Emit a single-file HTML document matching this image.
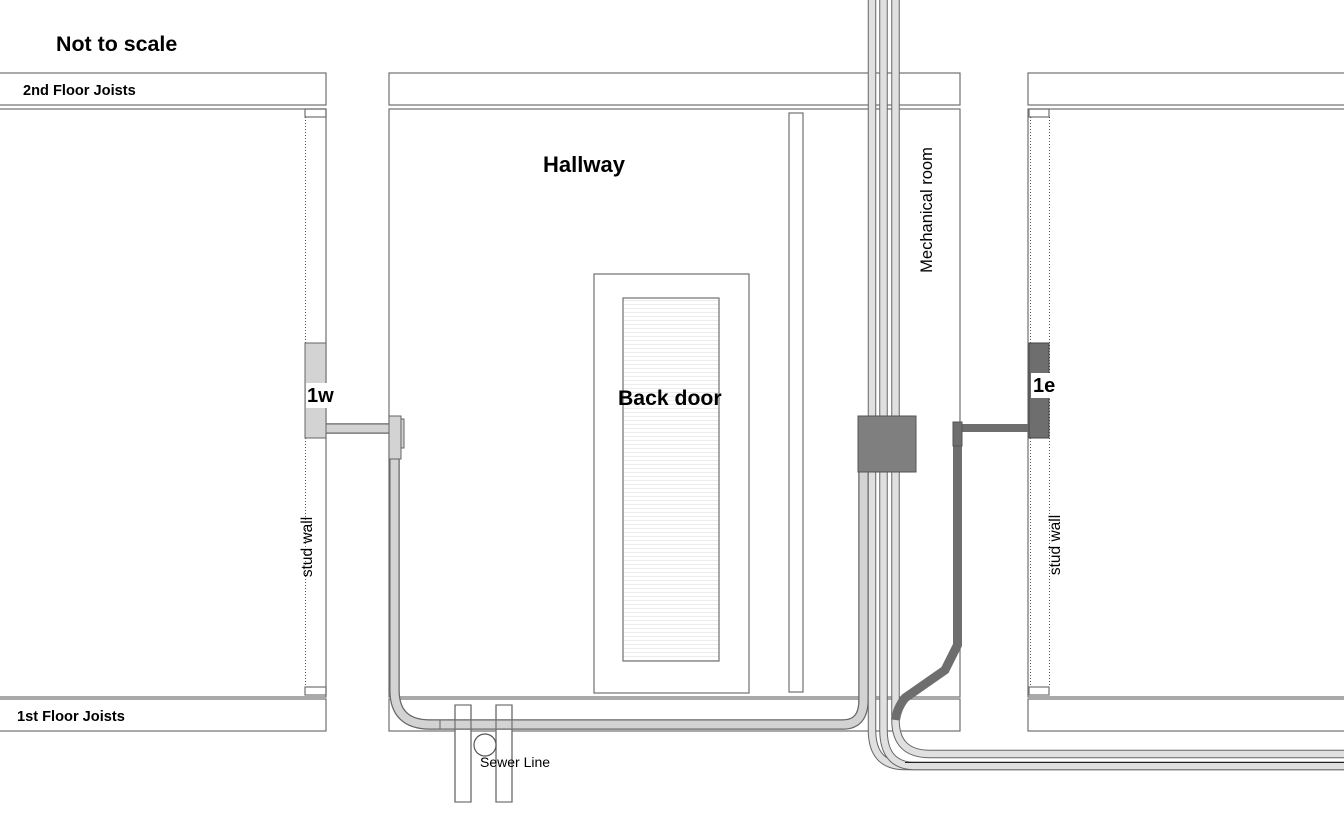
<!DOCTYPE html>
<html><head><meta charset="utf-8"><style>
html,body{margin:0;padding:0;background:#fff}
svg{display:block}
text{font-family:"Liberation Sans",Arial,sans-serif}
</style></head><body>
<svg width="1344" height="816" viewBox="0 0 1344 816" xmlns="http://www.w3.org/2000/svg">
<defs>
<pattern id="str" width="4" height="4" patternUnits="userSpaceOnUse"><rect width="4" height="4" fill="#fff"/><line x1="0" y1="0.5" x2="4" y2="0.5" stroke="#ececec" stroke-width="1"/></pattern>
</defs>
<g fill="none" stroke="#707070" stroke-width="1.2">
<rect x="-2" y="73" width="328" height="32"/>
<rect x="389" y="73" width="571" height="32"/>
<rect x="1028" y="73" width="320" height="32"/>
<rect x="-2" y="699" width="328" height="32"/>
<rect x="389" y="699" width="571" height="32"/>
<rect x="1028" y="699" width="320" height="32"/>
<rect x="-2" y="109" width="328" height="588"/>
<rect x="389" y="109" width="571" height="588"/>
<rect x="1028" y="109" width="320" height="588"/>
<rect x="305" y="109" width="21" height="8"/>
<rect x="305" y="687" width="21" height="8"/>
<rect x="1029" y="109" width="20" height="8"/>
<rect x="1029" y="687" width="20" height="8"/>
<rect x="594" y="274" width="155" height="419"/>
<rect x="623" y="298" width="96" height="363" fill="url(#str)"/>
<rect x="789" y="113" width="14" height="579"/>
</g>
<line x1="305.5" y1="117" x2="305.5" y2="687" stroke="#555" stroke-dasharray="1,2"/>
<line x1="1030.5" y1="117" x2="1030.5" y2="687" stroke="#555" stroke-dasharray="1,2"/>
<line x1="1049.5" y1="117" x2="1049.5" y2="687" stroke="#555" stroke-dasharray="1,2"/>

<g fill="#fff" stroke="#707070" stroke-width="1.2">
<rect x="455" y="705" width="16" height="97"/>
<rect x="496" y="705" width="16" height="97"/>
</g>

<path d="M326 428.5 H390 M394.5 459 V690 Q394.5 724.5 430 724.5 H843 Q863.5 724.5 863.5 700 V472" fill="none" stroke="#666" stroke-width="10.5"/>
<path d="M326 428.5 H390 M394.5 459 V690 Q394.5 724.5 430 724.5 H843 Q863.5 724.5 863.5 700 V472" fill="none" stroke="#d3d3d3" stroke-width="8"/>
<line x1="440" y1="720" x2="440" y2="729" stroke="#666"/>
<g fill="none" stroke="#707070" stroke-width="1.2">
<line x1="455" y1="705" x2="455" y2="802"/><line x1="471" y1="705" x2="471" y2="802"/>
<line x1="496" y1="705" x2="496" y2="802"/><line x1="512" y1="705" x2="512" y2="802"/>
</g>
<rect x="389" y="416" width="12" height="43" fill="#d3d3d3" stroke="#666"/>
<rect x="401" y="419" width="3" height="29" fill="#d3d3d3" stroke="#666"/>
<circle cx="485" cy="745" r="11" fill="#fff" stroke="#555" stroke-width="1.2"/>

<g fill="none">
<path d="M872 0 V730 Q872 766 905 766 H1350" stroke="#666" stroke-width="8.5"/>
<path d="M872 0 V730 Q872 766 905 766 H1350" stroke="#e0e0e0" stroke-width="6.5"/>
<path d="M883.5 0 V730 Q883.5 766 915 766 H1350" stroke="#666" stroke-width="8.5"/>
<path d="M883.5 0 V730 Q883.5 766 915 766 H1350" stroke="#e0e0e0" stroke-width="6.5"/>
<path d="M895.5 0 V720 Q895.5 754 930 754 H1350" stroke="#666" stroke-width="8.5"/>
<path d="M895.5 0 V720 Q895.5 754 930 754 H1350" stroke="#e0e0e0" stroke-width="6.5"/>
</g>
<line x1="905" y1="762.5" x2="1344" y2="762.5" stroke="#222" stroke-width="1"/>

<path d="M957.5 430 V645 L945 670 L905 698 Q897 708 895.5 720" fill="none" stroke="#6e6e6e" stroke-width="9"/>
<path d="M962 428 H1030" stroke="#6e6e6e" stroke-width="8"/>
<rect x="953" y="422" width="9" height="24" fill="#6e6e6e" stroke="#555"/>
<rect x="1029" y="343" width="20" height="95" fill="#6e6e6e" stroke="#444"/>
<rect x="858" y="416" width="58" height="56" fill="#7f7f7f" stroke="#555"/>

<rect x="305" y="343" width="21" height="95" fill="#d3d3d3" stroke="#666"/>
<rect x="306" y="383" width="32" height="25" fill="#fff"/>
<text x="307" y="402" font-size="20" font-weight="bold">1w</text>
<rect x="1031" y="373" width="27" height="25" fill="#fff"/>
<text x="1033" y="392" font-size="20" font-weight="bold">1e</text>

<text x="56" y="51" font-size="21.4" font-weight="bold">Not to scale</text>
<text x="23" y="95" font-size="14.6" font-weight="bold">2nd Floor Joists</text>
<text x="17" y="721" font-size="14.6" font-weight="bold">1st Floor Joists</text>
<text x="543" y="172" font-size="22" font-weight="bold">Hallway</text>
<text x="618" y="405" font-size="21.2" font-weight="bold">Back door</text>
<text x="480" y="767" font-size="14">Sewer Line</text>
<text transform="translate(932,210) rotate(-90)" font-size="16.5" text-anchor="middle">Mechanical room</text>
<text transform="translate(312,547) rotate(-90)" font-size="15.5" text-anchor="middle">stud wall</text>
<text transform="translate(1060,545) rotate(-90)" font-size="15.5" text-anchor="middle">stud wall</text>
</svg>
</body></html>
